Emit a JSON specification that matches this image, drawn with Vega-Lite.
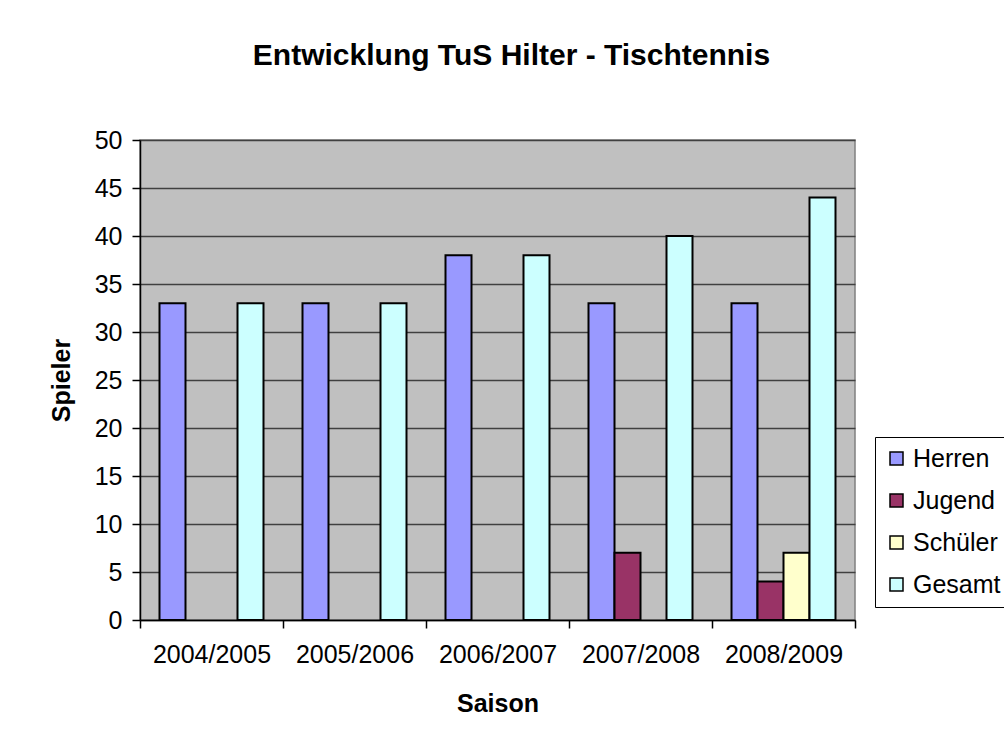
{
  "$schema": "https://vega.github.io/schema/vega-lite/v6.json",
  "width": 715,
  "height": 480,
  "autosize": "none",
  "padding": {"left": 140, "top": 140, "right": 149, "bottom": 122},
  "background": "white",
  "title": {
    "text": "Entwicklung TuS Hilter - Tischtennis",
    "font": "Liberation Sans",
    "fontSize": 30,
    "fontWeight": "bold",
    "color": "black",
    "anchor": "middle",
    "dx": 14,
    "offset": 57
  },
  "data": {
    "values": [
      {"Saison": "2004/2005", "Serie": "Herren", "Spieler": 33},
      {"Saison": "2004/2005", "Serie": "Gesamt", "Spieler": 33},
      {"Saison": "2005/2006", "Serie": "Herren", "Spieler": 33},
      {"Saison": "2005/2006", "Serie": "Gesamt", "Spieler": 33},
      {"Saison": "2006/2007", "Serie": "Herren", "Spieler": 38},
      {"Saison": "2006/2007", "Serie": "Gesamt", "Spieler": 38},
      {"Saison": "2007/2008", "Serie": "Herren", "Spieler": 33},
      {"Saison": "2007/2008", "Serie": "Jugend", "Spieler": 7},
      {"Saison": "2007/2008", "Serie": "Gesamt", "Spieler": 40},
      {"Saison": "2008/2009", "Serie": "Herren", "Spieler": 33},
      {"Saison": "2008/2009", "Serie": "Jugend", "Spieler": 4},
      {"Saison": "2008/2009", "Serie": "Schüler", "Spieler": 7},
      {"Saison": "2008/2009", "Serie": "Gesamt", "Spieler": 44}
    ]
  },
  "mark": {"type": "bar", "stroke": "black", "strokeWidth": 2},
  "encoding": {
    "x": {
      "field": "Saison",
      "type": "nominal",
      "sort": null,
      "scale": {"paddingInner": 0, "paddingOuter": 0},
      "axis": {
        "title": "Saison",
        "labelAngle": 0,
        "tickBand": "extent",
        "labelPadding": 14,
        "titlePadding": 24
      }
    },
    "xOffset": {
      "field": "Serie",
      "type": "nominal",
      "scale": {"domain": ["Herren", "Jugend", "Schüler", "Gesamt"], "paddingInner": 0, "paddingOuter": 0.75}
    },
    "y": {
      "field": "Spieler",
      "type": "quantitative",
      "scale": {"domain": [0, 50], "nice": false},
      "axis": {
        "title": "Spieler",
        "values": [0, 5, 10, 15, 20, 25, 30, 35, 40, 45, 50],
        "grid": true,
        "labelPadding": 10,
        "titlePadding": 20
      }
    },
    "color": {
      "field": "Serie",
      "type": "nominal",
      "scale": {
        "domain": ["Herren", "Jugend", "Schüler", "Gesamt"],
        "range": ["#9999FF", "#993366", "#FFFFCC", "#CCFFFF"]
      },
      "legend": {
        "title": null,
        "orient": "none",
        "legendX": 735,
        "legendY": 297,
        "strokeColor": "black",
        "fillColor": "white",
        "padding": 9,
        "symbolType": "square",
        "symbolSize": 169,
        "symbolStrokeColor": "black",
        "symbolStrokeWidth": 1.5,
        "symbolOpacity": 1,
        "labelFont": "Liberation Sans",
        "labelFontSize": 25,
        "labelColor": "black",
        "labelOffset": 4,
        "rowPadding": 16
      }
    }
  },
  "config": {
    "view": {"fill": "#C0C0C0", "stroke": "#808080", "strokeWidth": 1.5},
    "axis": {
      "labelFont": "Liberation Sans",
      "labelFontSize": 25,
      "labelColor": "black",
      "titleFont": "Liberation Sans",
      "titleFontSize": 25,
      "titleFontWeight": "bold",
      "titleColor": "black",
      "domainColor": "black",
      "domainWidth": 1.5,
      "tickColor": "black",
      "tickWidth": 1.5,
      "tickSize": 8,
      "gridColor": "#404040",
      "gridWidth": 1.5,
      "gridOpacity": 1
    },
    "axisX": {"grid": false}
  }
}
